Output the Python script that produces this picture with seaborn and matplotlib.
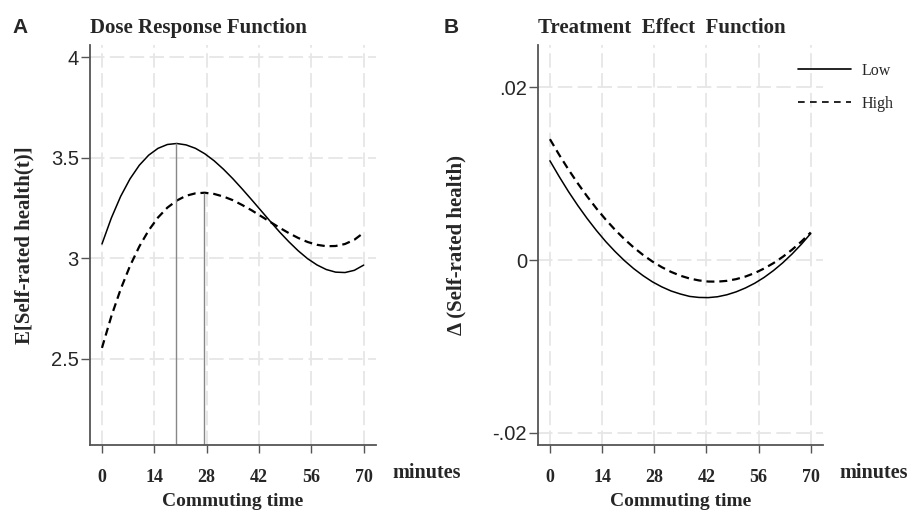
import matplotlib
matplotlib.use("Agg")
import seaborn as sns
from matplotlib import pyplot as plt
from matplotlib.lines import Line2D

# commuting time grid (minutes) and curves
minutes = [0, 2.5, 5, 7.5, 10, 12.5, 15, 17.5, 20, 22.5, 25, 27.5, 30, 32.5, 35,
           37.5, 40, 42.5, 45, 47.5, 50, 52.5, 55, 57.5, 60, 62.5, 65, 67.5, 70]

dose_low = [3.070, 3.199, 3.307, 3.394, 3.462, 3.512, 3.546, 3.565, 3.570, 3.563,
            3.546, 3.519, 3.484, 3.442, 3.395, 3.344, 3.291, 3.237, 3.183, 3.130,
            3.081, 3.036, 2.997, 2.966, 2.943, 2.930, 2.928, 2.939, 2.965]
dose_high = [2.553, 2.710, 2.845, 2.961, 3.058, 3.138, 3.202, 3.251, 3.286, 3.310,
             3.322, 3.325, 3.319, 3.306, 3.288, 3.264, 3.238, 3.209, 3.180, 3.151,
             3.124, 3.100, 3.080, 3.066, 3.059, 3.060, 3.070, 3.091, 3.126]

effect_low = [0.0115, 0.00966, 0.00792, 0.00631, 0.00481, 0.00342, 0.00214, 0.00099,
              -0.00006, -0.00099, -0.00180, -0.00251, -0.00309, -0.00357, -0.00392,
              -0.00420, -0.00432, -0.00434, -0.00424, -0.00401, -0.00367, -0.00322,
              -0.00267, -0.00200, -0.00121, -0.00031, 0.00071, 0.00184, 0.00308]
effect_high = [0.0140, 0.01218, 0.01047, 0.00887, 0.00737, 0.00597, 0.00468, 0.00350,
               0.00243, 0.00146, 0.00060, -0.00016, -0.00081, -0.00136, -0.00180,
               -0.00213, -0.00235, -0.00248, -0.00249, -0.00240, -0.00220, -0.00190,
               -0.00149, -0.00097, -0.00035, 0.00038, 0.00121, 0.00215, 0.00320]

# optimum of each dose-response curve (drop lines)
peak_minutes = [19.8, 27.3]
peak_values = [3.570, 3.325]

x_ticks = [0, 14, 28, 42, 56, 70]
dose_yticks = [2.5, 3, 3.5, 4]
dose_ylabels = ["2.5", "3", "3.5", "4"]
effect_yticks = [-0.02, 0, 0.02]
effect_ylabels = ["-.02", "0", ".02"]

sns.set_theme(style="white")
plt.rcParams["font.family"] = ["Liberation Sans", "DejaVu Sans"]

SERIF = ["Liberation Serif", "DejaVu Serif"]
SPINE = "#555555"
DASH = (0, (3.6, 2.2))

fig = plt.figure(figsize=(9.1, 5.12), dpi=100)
ax1 = fig.add_axes([90 / 910, 67 / 512, 286 / 910, 400 / 512])
ax2 = fig.add_axes([538 / 910, 67 / 512, 285 / 910, 400 / 512])


def style_axes(ax, title, ylabel, yticks, ylabels, ylabel_x):
    ax.set_xlim(-3.2, 73.3)
    ax.set_xticks(x_ticks)
    ax.set_xticklabels([str(t) for t in x_ticks], fontfamily=SERIF,
                       fontweight="bold", fontsize=13)
    ax.set_yticks(yticks)
    ax.set_yticklabels(ylabels, fontsize=14.5)
    ax.set_axisbelow(True)
    ax.grid(True, color="#e6e6e6", lw=1.3, ls=(0, (8, 3)))
    sns.despine(ax=ax)
    for side in ("left", "bottom"):
        ax.spines[side].set_color(SPINE)
        ax.spines[side].set_linewidth(1.3)
    ax.tick_params(axis="x", bottom=True, direction="out", length=6, width=1,
                   color=SPINE, pad=11)
    ax.tick_params(axis="y", left=True, direction="out", length=6.5, width=1,
                   color=SPINE, pad=1.5)
    ax.set_title(title, loc="left", fontfamily=SERIF, fontweight="bold",
                 fontsize=15, pad=8.5)
    ax.set_xlabel("Commuting time", fontfamily=SERIF, fontweight="bold",
                  fontsize=14)
    ax.xaxis.set_label_coords(0.5, -0.12)
    ax.set_ylabel(ylabel, fontfamily=SERIF, fontweight="bold", fontsize=15)
    ax.yaxis.set_label_coords(ylabel_x, 0.5)
    ax.text(1.058, -0.0825, "minutes", transform=ax.transAxes,
            fontfamily=SERIF, fontweight="bold", fontsize=14.5,
            va="baseline", ha="left")


# Panel A: dose response
sns.lineplot(x=minutes, y=dose_low, ax=ax1, color="black", lw=1.1,
             legend=False)
sns.lineplot(x=minutes, y=dose_high, ax=ax1, color="black", lw=1.6,
             ls=DASH, legend=False)
ax1.set_ylim(2.07, 4.06)
ax1.vlines(peak_minutes, 2.07, peak_values, color="#888888", lw=1.0)
style_axes(ax1, "Dose Response Function", "E[Self-rated health(t)]",
           dose_yticks, dose_ylabels, -0.195)

# Panel B: treatment effect
sns.lineplot(x=minutes, y=effect_low, ax=ax2, color="black", lw=1.1,
             legend=False)
sns.lineplot(x=minutes, y=effect_high, ax=ax2, color="black", lw=1.6,
             ls=DASH, legend=False)
ax2.set_ylim(-0.0214, 0.0249)
style_axes(ax2, "Treatment  Effect  Function", "\u0394 (Self-rated health)",
           effect_yticks, effect_ylabels, -0.25)

handles = [Line2D([], [], color="black", lw=1.2),
           Line2D([], [], color="black", lw=1.2, ls=(0, (4, 3.2)))]
ax2.legend(handles, ["Low", "High"], loc="upper left",
           bbox_to_anchor=(798 / 910, 1 - 63 / 512),
           bbox_transform=fig.transFigure, frameon=False,
           prop={"family": SERIF, "size": 11.5}, handlelength=3.3,
           handletextpad=0.7, labelspacing=1.05, borderpad=0,
           borderaxespad=0)

fig.text(12 / 910, 1 - 33 / 512, "A", fontweight="bold", fontsize=15,
         va="baseline")
fig.text(444 / 910, 1 - 33 / 512, "B", fontweight="bold", fontsize=15,
         va="baseline")

fig.savefig("out.png", dpi=100)
